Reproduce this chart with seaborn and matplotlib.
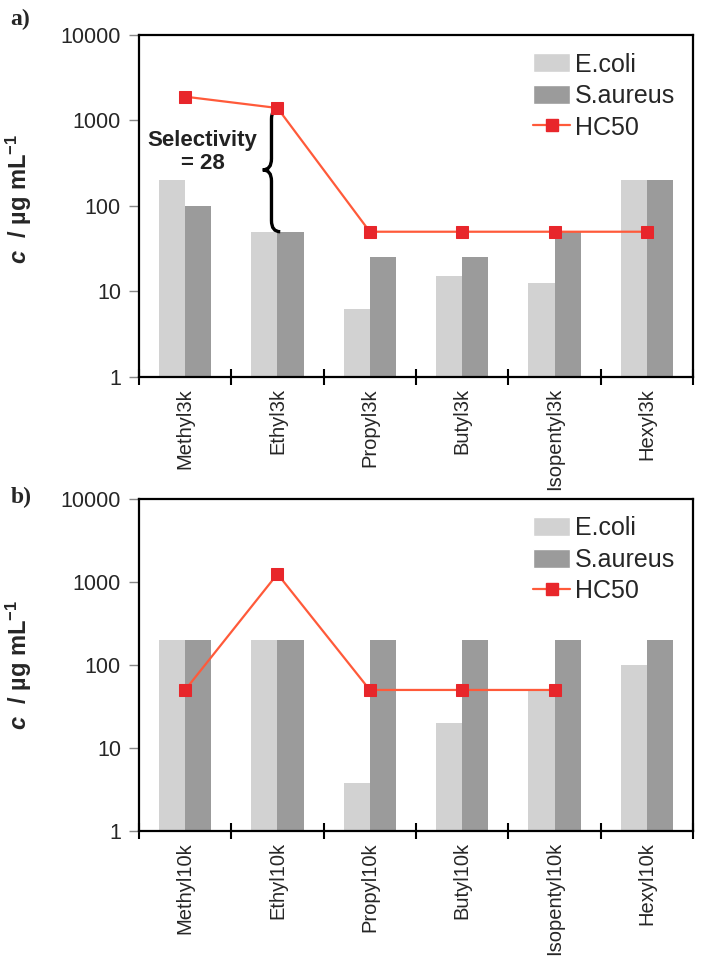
import numpy as np
import pandas as pd
import matplotlib
matplotlib.use('Agg')
import matplotlib.pyplot as plt
from matplotlib.path import Path
from matplotlib.patches import PathPatch, Patch
from matplotlib.lines import Line2D
import seaborn as sns

# dane - panel a) (3k)
compounds_a = ['Methyl3k', 'Ethyl3k', 'Propyl3k', 'Butyl3k', 'Isopentyl3k', 'Hexyl3k']
ecoli_a = [200, 50, 6.25, 15, 12.5, 200]
saureus_a = [100, 50, 25, 25, 50, 200]
hc50_a = [1900, 1400, 50, 50, 50, 50]

# dane - panel b) (10k)
compounds_b = ['Methyl10k', 'Ethyl10k', 'Propyl10k', 'Butyl10k', 'Isopentyl10k', 'Hexyl10k']
ecoli_b = [200, 200, 3.8, 20, 50, 100]
saureus_b = [200, 200, 200, 200, 200, 200]
hc50_b = [50, 1250, 50, 50, 50, np.nan]

yticks = [1, 10, 100, 1000, 10000]
strains = ['E.coli', 'S.aureus']
bar_colors = {'E.coli': '#d2d2d2', 'S.aureus': '#9b9b9b'}
line_color = '#ff5a3a'
marker_color = '#e8262b'

sns.set_style('white')
plt.rcParams['font.family'] = ['Liberation Sans', 'DejaVu Sans']
plt.rcParams['mathtext.fontset'] = 'custom'
plt.rcParams['mathtext.rm'] = 'Liberation Sans:bold'
plt.rcParams['mathtext.bf'] = 'Liberation Sans:bold'
plt.rcParams['mathtext.it'] = 'Liberation Sans:italic'
plt.rcParams['mathtext.bfit'] = 'Liberation Sans:bold:italic'


def long_df(compounds, ecoli, saureus):
    return pd.DataFrame({
        'compound': compounds * 2,
        'strain': ['E.coli'] * len(compounds) + ['S.aureus'] * len(compounds),
        'value': list(ecoli) + list(saureus),
    })


def draw_brace(ax, x_end, x_tip, y_top, y_bot, d=0.13):
    # klamra "{" w przestrzeni log10
    lt, lb = np.log10(y_top), np.log10(y_bot)
    lm = (lt + lb) / 2
    xm = (x_end + x_tip) / 2
    pts = [(x_end, lt), (xm, lt), (xm, lt - d), (xm, lm + d),
           (xm, lm), (x_tip, lm), (xm, lm), (xm, lm - d),
           (xm, lb + d), (xm, lb), (x_end, lb)]
    codes = [Path.MOVETO, Path.CURVE3, Path.CURVE3, Path.LINETO,
             Path.CURVE3, Path.CURVE3, Path.CURVE3, Path.CURVE3,
             Path.LINETO, Path.CURVE3, Path.CURVE3]
    verts = [(x, 10 ** ly) for x, ly in pts]
    ax.add_patch(PathPatch(Path(verts, codes), fill=False, lw=2.4,
                           edgecolor='black', transform=ax.transData))


def plot_panel(ax, compounds, ecoli, saureus, hc50, ylab_y):
    df = long_df(compounds, ecoli, saureus)
    ax.set_yscale('log')
    sns.barplot(data=df, x='compound', y='value', hue='strain', order=compounds,
                hue_order=strains, palette=bar_colors, width=0.57, saturation=1,
                edgecolor='none', linewidth=0, ax=ax, legend=False)
    x = np.arange(len(compounds))
    sns.lineplot(x=x, y=hc50, color=line_color, lw=1.6, marker='s', markersize=8,
                 markerfacecolor=marker_color, markeredgecolor=marker_color, ax=ax)

    ax.set_ylim(1, 10000)
    ax.set_xlim(-0.5, len(compounds) - 0.5)
    ax.set_yticks(yticks)
    ax.set_yticklabels([str(v) for v in yticks], fontsize=15.5)
    ax.yaxis.set_minor_locator(matplotlib.ticker.NullLocator())
    ax.tick_params(axis='y', which='major', direction='out', length=7, width=1,
                   color='#888888', pad=6, left=True)

    ax.set_xticks(np.arange(len(compounds) + 1) - 0.5)
    ax.set_xticklabels([])
    ax.tick_params(axis='x', which='major', direction='inout', length=12, width=1.5,
                   color='black', bottom=True)
    ax.set_xticks(x, minor=True)
    ax.set_xticklabels(compounds, minor=True, rotation=90, fontsize=14.5)
    ax.tick_params(axis='x', which='minor', length=0, pad=8)
    ax.set_xlabel('')

    for s in ax.spines.values():
        s.set_visible(True)
        s.set_color('black')
        s.set_linewidth(1.6)

    ax.set_ylabel(r'$\mathbfit{c}$  / µg mL$^{\mathbf{-1}}$', fontsize=17,
                  fontweight='bold')
    ax.yaxis.set_label_coords(-0.19, ylab_y)

    handles = [Patch(facecolor=bar_colors['E.coli'], label='E.coli'),
               Patch(facecolor=bar_colors['S.aureus'], label='S.aureus'),
               Line2D([0], [0], color=line_color, lw=1.6, marker='s', markersize=8,
                      markerfacecolor=marker_color, markeredgecolor=marker_color,
                      label='HC50')]
    ax.legend(handles=handles, loc='upper right', frameon=False, fontsize=18,
              handlelength=1.5, handleheight=0.8, handletextpad=0.2,
              labelspacing=0.3, borderaxespad=0.3)


fig = plt.figure(figsize=(7.04, 9.59), dpi=100)
ax_a = fig.add_axes([0.1974, 0.6069, 0.787, 0.3566])
ax_b = fig.add_axes([0.1974, 0.1335, 0.787, 0.3462])

plot_panel(ax_a, compounds_a, ecoli_a, saureus_a, hc50_a, 0.52)
plot_panel(ax_b, compounds_b, ecoli_b, saureus_b, hc50_b, 0.50)

# adnotacja selektywności
draw_brace(ax_a, 1.03, 0.84, hc50_a[1], ecoli_a[1])
ax_a.text(0.19, 430, 'Selectivity\n= 28', ha='center', va='center', fontsize=16,
          fontweight='bold', linespacing=1.1, color='#222222')

fig.text(0.015, 1 - 19 / 959, 'a)', family='Liberation Serif', fontweight='bold',
         fontsize=17, va='center')
fig.text(0.015, 1 - 497 / 959, 'b)', family='Liberation Serif', fontweight='bold',
         fontsize=17, va='center')

fig.savefig('out.png', dpi=100)
